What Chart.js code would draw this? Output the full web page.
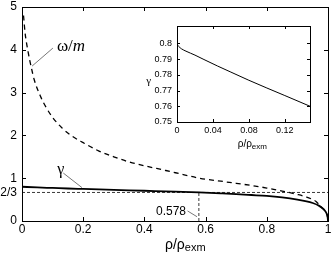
<!DOCTYPE html>
<html>
<head>
<meta charset="utf-8">
<script src="https://cdn.jsdelivr.net/npm/chart.js@4"></script>
<style>
  html, body { margin: 0; padding: 0; background: #fff; }
  #wrap { position: relative; width: 332px; height: 255px; }
  #mainChart { position: absolute; left: 0; top: 0; }
  #insetChart { position: absolute; left: 140px; top: 15px; }
</style>
</head>
<body>
<div id="wrap">
  <canvas id="mainChart" width="332" height="255"></canvas>
  <canvas id="insetChart" width="180" height="135"></canvas>
</div>
<script>
// gamma vs rho/rho_exm (solid)
const gammaRho = [0, 0.05, 0.1, 0.15, 0.2, 0.3, 0.4, 0.5, 0.578, 0.65, 0.7, 0.75, 0.8, 0.85, 0.9, 0.93, 0.95, 0.97, 0.98, 0.99, 0.995, 0.999, 1];
const gammaVal = [0.8006, 0.784, 0.772, 0.7595, 0.749, 0.728, 0.707, 0.686, 0.667, 0.645, 0.628, 0.607, 0.585, 0.55, 0.50, 0.46, 0.42, 0.36, 0.31, 0.24, 0.18, 0.08, 0];

// omega/m vs rho/rho_exm (dashed)
const omegaRho = [0.005, 0.01, 0.02, 0.03, 0.04, 0.06, 0.08, 0.1, 0.13, 0.16, 0.2, 0.25, 0.3, 0.35, 0.4, 0.47, 0.53, 0.58, 0.65, 0.7, 0.75, 0.8, 0.85, 0.9, 0.93, 0.95, 0.96, 0.97, 0.98, 0.99, 0.995, 0.999, 1];
const omegaVal = [4.8, 4.4, 3.95, 3.6, 3.3, 2.92, 2.64, 2.42, 2.18, 2.0, 1.83, 1.64, 1.5, 1.38, 1.29, 1.18, 1.08, 1.0, 0.93, 0.88, 0.83, 0.77, 0.7, 0.62, 0.56, 0.5, 0.46, 0.39, 0.31, 0.24, 0.18, 0.08, 0];

// inset: gamma near rho = 0
const insetRho = [0, 0.0005, 0.002, 0.005, 0.01, 0.02, 0.03, 0.045, 0.06, 0.08, 0.1, 0.12, 0.148];
const insetGamma = [0.8006, 0.7992, 0.798, 0.7965, 0.795, 0.7925, 0.7897, 0.7856, 0.7817, 0.7765, 0.7716, 0.7668, 0.760];

// reference lines
const refLevel = 2 / 3;
const refLabel = '2/3';
const crossRho = 0.578;
const crossLabel = '0.578';

const SANS = '"Liberation Sans", Arial, sans-serif';
const SERIF = '"Liberation Serif", "Times New Roman", serif';

Chart.defaults.color = '#000';

const pts = (xs, ys) => xs.map((x, i) => ({ x: x, y: ys[i] }));
const fmt = v => String(Math.round(v * 1000) / 1000);

function drawFrameAndTicks(chart, len) {
  const { ctx, chartArea: a, scales: { x, y } } = chart;
  ctx.save();
  ctx.strokeStyle = '#000';
  ctx.lineWidth = 1;
  ctx.setLineDash([]);
  ctx.beginPath();
  x.ticks.forEach(t => {
    const px = Math.round(x.getPixelForValue(t.value)) + 0.5;
    if (px <= a.left + 2 || px >= a.right - 2) return;
    ctx.moveTo(px, a.bottom); ctx.lineTo(px, a.bottom - len);
    ctx.moveTo(px, a.top); ctx.lineTo(px, a.top + len);
  });
  y.ticks.forEach(t => {
    const py = Math.round(y.getPixelForValue(t.value)) + 0.5;
    if (py <= a.top + 2 || py >= a.bottom - 2) return;
    ctx.moveTo(a.left, py); ctx.lineTo(a.left + len, py);
    ctx.moveTo(a.right, py); ctx.lineTo(a.right - len, py);
  });
  ctx.stroke();
  ctx.strokeRect(Math.round(a.left) + 0.5, Math.round(a.top) + 0.5,
    Math.round(a.right - a.left), Math.round(a.bottom - a.top));
  ctx.restore();
}

function drawRhoTitle(ctx, x, y, size, subSize, drop) {
  ctx.textAlign = 'left';
  ctx.textBaseline = 'alphabetic';
  ctx.font = size + 'px ' + SANS;
  ctx.fillText('ρ/ρ', x, y);
  const w = ctx.measureText('ρ/ρ').width;
  ctx.font = subSize + 'px ' + SANS;
  ctx.fillText('exm', x + w, y + drop);
}

function leader(ctx, x0, y0, x1, y1) {
  ctx.save();
  ctx.strokeStyle = '#777';
  ctx.lineWidth = 1;
  ctx.beginPath();
  ctx.moveTo(x0, y0);
  ctx.lineTo(x1, y1);
  ctx.stroke();
  ctx.restore();
}

const mainDecor = {
  id: 'mainDecor',
  afterDraw(chart) {
    const { ctx, scales: { x, y } } = chart;
    drawFrameAndTicks(chart, 4);
    ctx.save();
    ctx.fillStyle = '#000';

    // 2/3 label on the left
    ctx.font = '12px ' + SANS;
    ctx.textAlign = 'right';
    ctx.textBaseline = 'middle';
    ctx.fillText(refLabel, 17, y.getPixelForValue(refLevel) + 0.5);

    // 0.578 label
    ctx.fillText(crossLabel, x.getPixelForValue(0.536), y.getPixelForValue(0.215));
    leader(ctx, x.getPixelForValue(0.541), y.getPixelForValue(0.235), x.getPixelForValue(0.572), y.getPixelForValue(0.10));

    // omega/m label
    const ox = x.getPixelForValue(0.114), oy = y.getPixelForValue(3.97);
    ctx.textAlign = 'left';
    ctx.textBaseline = 'alphabetic';
    ctx.font = '17px ' + SERIF;
    ctx.fillText('ω/', ox, oy);
    const ow = ctx.measureText('ω/').width;
    ctx.font = 'italic 17px ' + SERIF;
    ctx.fillText('m', ox + ow, oy);
    leader(ctx, x.getPixelForValue(0.101), y.getPixelForValue(4.04), x.getPixelForValue(0.033), y.getPixelForValue(3.62));

    // gamma label
    ctx.font = '16px ' + SERIF;
    ctx.textAlign = 'center';
    ctx.textBaseline = 'middle';
    ctx.fillText('γ', x.getPixelForValue(0.127), y.getPixelForValue(1.2));
    leader(ctx, x.getPixelForValue(0.135), y.getPixelForValue(1.12), x.getPixelForValue(0.196), y.getPixelForValue(0.78));

    // x title
    drawRhoTitle(ctx, 165, 248.5, 14, 11, 2.5);
    ctx.restore();
  }
};

const insetDecor = {
  id: 'insetDecor',
  afterDraw(chart) {
    const { ctx } = chart;
    drawFrameAndTicks(chart, 3);
    ctx.save();
    ctx.fillStyle = '#000';
    ctx.font = '11px ' + SERIF;
    ctx.textAlign = 'center';
    ctx.textBaseline = 'middle';
    ctx.fillText('γ', 8.7, 66);
    drawRhoTitle(ctx, 97.7, 131.5, 10, 8, 2.5);
    ctx.restore();
  }
};

const mainChart = new Chart(document.getElementById('mainChart'), {
  type: 'line',
  data: {
    datasets: [
      { data: pts(gammaRho, gammaVal), borderColor: '#000', borderWidth: 1.8, cubicInterpolationMode: 'monotone' },
      { data: pts(omegaRho, omegaVal), borderColor: '#000', borderWidth: 1.3, borderDash: [5, 4], cubicInterpolationMode: 'monotone' },
      { data: [{ x: 0, y: refLevel }, { x: 1, y: refLevel }], borderColor: '#222', borderWidth: 0.9, borderDash: [3, 2] },
      { data: [{ x: crossRho, y: 0 }, { x: crossRho, y: refLevel }], borderColor: '#222', borderWidth: 0.9, borderDash: [3, 2] }
    ]
  },
  options: {
    responsive: false,
    animation: false,
    devicePixelRatio: 1,
    layout: { padding: { left: 0, top: 7, right: 4, bottom: 0 } },
    elements: { point: { radius: 0 } },
    plugins: { legend: { display: false }, tooltip: { enabled: false } },
    scales: {
      x: {
        type: 'linear', min: 0, max: 1,
        ticks: { stepSize: 0.2, padding: 1, maxRotation: 0, callback: fmt, font: { family: SANS, size: 12 } },
        grid: { display: false, drawTicks: false },
        border: { display: false },
        afterFit: s => { s.height = 34; s.paddingLeft = 0; s.paddingRight = 0; }
      },
      y: {
        type: 'linear', min: 0, max: 5,
        ticks: { stepSize: 1, padding: 5, callback: fmt, font: { family: SANS, size: 12 } },
        grid: { display: false, drawTicks: false },
        border: { display: false },
        afterFit: s => { s.width = 22; s.paddingTop = 0; s.paddingBottom = 0; }
      }
    }
  },
  plugins: [mainDecor]
});

const insetChart = new Chart(document.getElementById('insetChart'), {
  type: 'line',
  data: {
    datasets: [
      { data: pts(insetRho, insetGamma), borderColor: '#000', borderWidth: 1, cubicInterpolationMode: 'monotone' }
    ]
  },
  options: {
    responsive: false,
    animation: false,
    devicePixelRatio: 1,
    layout: { padding: { left: 0, top: 11, right: 10, bottom: 0 } },
    elements: { point: { radius: 0 } },
    plugins: { legend: { display: false }, tooltip: { enabled: false } },
    scales: {
      x: {
        type: 'linear', min: 0, max: 0.148,
        ticks: { stepSize: 0.04, includeBounds: false, padding: 3, maxRotation: 0, callback: fmt, font: { family: SANS, size: 9 } },
        grid: { display: false, drawTicks: false },
        border: { display: false },
        afterFit: s => { s.height = 28; s.paddingLeft = 0; s.paddingRight = 0; }
      },
      y: {
        type: 'linear', min: 0.75, max: 0.811,
        ticks: { stepSize: 0.01, includeBounds: false, padding: 5, callback: fmt, font: { family: SANS, size: 9 } },
        grid: { display: false, drawTicks: false },
        border: { display: false },
        afterBuildTicks: s => { s.ticks = s.ticks.filter(t => t.value <= 0.8001); },
        afterFit: s => { s.width = 37; s.paddingTop = 0; s.paddingBottom = 0; }
      }
    }
  },
  plugins: [insetDecor]
});
</script>
</body>
</html>
